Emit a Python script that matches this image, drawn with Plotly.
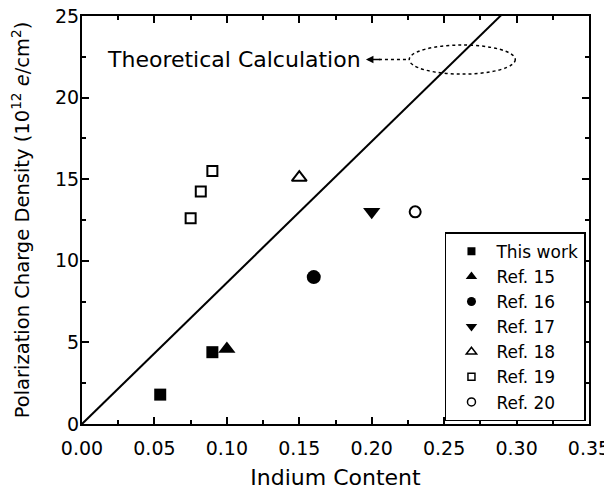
import plotly.graph_objects as go

# ---- data ----
theory_x = [0.0, 0.35]
theory_y = [0.0, 30.3]

this_work_x = [0.054, 0.090]
this_work_y = [1.8, 4.4]
ref15_x = [0.100]
ref15_y = [4.6]
ref16_x = [0.160]
ref16_y = [9.0]
ref17_x = [0.200]
ref17_y = [13.0]
ref18_x = [0.150]
ref18_y = [15.1]
ref19_x = [0.075, 0.082, 0.090]
ref19_y = [12.6, 14.25, 15.5]
ref20_x = [0.230]
ref20_y = [13.0]

x_ticks = [0.00, 0.05, 0.10, 0.15, 0.20, 0.25, 0.30, 0.35]
x_tick_labels = ["0.00", "0.05", "0.10", "0.15", "0.20", "0.25", "0.30", "0.35"]
y_ticks = [0, 5, 10, 15, 20, 25]

ellipse_center = (0.2625, 22.33)
ellipse_radius = (0.0366, 0.89)
label_text = "Theoretical Calculation"

FONT = "DejaVu Sans, sans-serif"

fig = go.Figure()

fig.add_trace(go.Scatter(x=theory_x, y=theory_y, mode="lines",
                         line=dict(color="black", width=2), showlegend=False))

series = [
    ("This work", this_work_x, this_work_y, "square", 12, 0, 8),
    ("Ref. 15", ref15_x, ref15_y, "triangle-up", 15, 0, 10),
    ("Ref. 16", ref16_x, ref16_y, "circle", 14, 0, 9),
    ("Ref. 17", ref17_x, ref17_y, "triangle-down", 15, 0, 10),
    ("Ref. 18", ref18_x, ref18_y, "triangle-up-open", 13, 2, 9),
    ("Ref. 19", ref19_x, ref19_y, "square-open", 10, 2, 7),
    ("Ref. 20", ref20_x, ref20_y, "circle-open", 11, 2, 8),
]
for name, xs, ys, sym, size, lw, lsize in series:
    fig.add_trace(go.Scatter(
        x=xs, y=ys, mode="markers", name=name, legendgroup=name, showlegend=False,
        marker=dict(symbol=sym, size=size, color="black",
                    line=dict(color="black", width=lw)),
    ))
    # legend entry (smaller symbol, as in the original legend)
    fig.add_trace(go.Scatter(
        x=[None], y=[None], mode="markers", name=name, legendgroup=name,
        marker=dict(symbol=sym, size=lsize, color="black",
                    line=dict(color="black", width=1.5 if lw else 0)),
    ))

# dotted ellipse
cx, cy = ellipse_center
rx, ry = ellipse_radius
fig.add_shape(type="circle", xref="x", yref="y",
              x0=cx - rx, x1=cx + rx, y0=cy - ry, y1=cy + ry,
              line=dict(color="black", width=1.5, dash="dot"))
# dotted connector
fig.add_shape(type="line", xref="x", yref="y",
              x0=0.205, y0=cy, x1=cx - rx, y1=cy,
              line=dict(color="black", width=1.5, dash="dot"))
# arrowhead
fig.add_annotation(x=0.196, y=cy, ax=0.207, ay=cy, xref="x", yref="y",
                   axref="x", ayref="y", text="", showarrow=True,
                   arrowhead=2, arrowsize=1, arrowwidth=1.5, arrowcolor="black")
fig.add_annotation(x=0.194, y=cy, xref="x", yref="y", text=label_text,
                   showarrow=False, xanchor="right", yanchor="middle",
                   font=dict(family=FONT, size=22, color="black"))

axis_common = dict(
    showline=True, linecolor="black", linewidth=2, mirror="ticks",
    ticks="inside", ticklen=7, tickwidth=1.5, tickcolor="black",
    showgrid=False, zeroline=False, automargin=False, ticklabeloverflow="allow",
    tickfont=dict(family=FONT, size=19, color="black"),
)

fig.update_xaxes(
    range=[0, 0.35], tickvals=x_ticks, ticktext=x_tick_labels, ticklabelstandoff=6,
    minor=dict(ticks="inside", ticklen=4, tickwidth=1.5, tickcolor="black", dtick=0.025, tick0=0),
    title=dict(text="Indium Content", font=dict(family=FONT, size=22, color="black"), standoff=12),
    **axis_common,
)
fig.update_yaxes(
    range=[0, 25], tickvals=y_ticks, ticklabelstandoff=-3,
    minor=dict(ticks="inside", ticklen=4, tickwidth=1.5, tickcolor="black", dtick=2.5, tick0=0),
    title=dict(text="Polarization Charge Density (10<sup>12</sup> <i>e</i>/cm<sup>2</sup>)",
               font=dict(family=FONT, size=19.5, color="black"), standoff=25),
    **axis_common,
)

fig.update_layout(
    width=604, height=483,
    margin=dict(l=74, r=23, t=8, b=67),
    plot_bgcolor="white", paper_bgcolor="white",
    legend=dict(x=0.994, y=0.47, xanchor="right", yanchor="top",
                bordercolor="black", borderwidth=1.5, bgcolor="white",
                font=dict(family=FONT, size=17, color="black"),
                tracegroupgap=0, itemwidth=40),
)

fig.write_html("out.html")
